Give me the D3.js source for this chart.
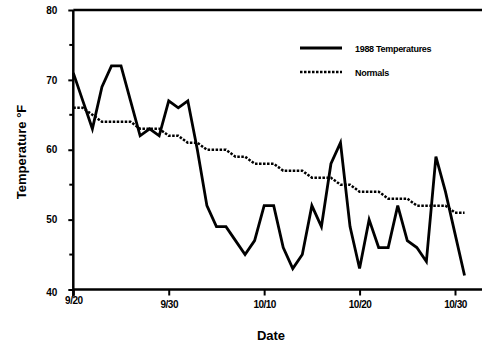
<!DOCTYPE html>
<html>
<head>
<meta charset="utf-8">
<script src="https://cdn.jsdelivr.net/npm/d3@7"></script>
<style>
  body { margin: 0; background: #fff; }
  svg text { font-family: "Liberation Sans", Arial, sans-serif; font-weight: bold; fill: #000; }
</style>
</head>
<body>
<div id="chart"></div>
<script>
// days since 9/20
var days = d3.range(0, 42);

// 1988 daily temperatures
var temps1988 = [71, 67, 63, 69, 72, 72, 67, 62, 63, 62, 67, 66, 67, 60, 52, 49, 49, 47, 45, 47, 52, 52,
                 46, 43, 45, 52, 49, 58, 61, 49, 43, 50, 46, 46, 52, 47, 46, 44, 59, 54, 48, 42];

// normal temperatures
var normals = [66, 66, 65, 64, 64, 64, 64, 63, 63, 63, 62, 62, 61, 61, 60, 60, 60, 59, 59, 58, 58, 58,
               57, 57, 57, 56, 56, 56, 55, 55, 54, 54, 54, 53, 53, 53, 52, 52, 52, 52, 51, 51];

var xTickDays = [0, 10, 20, 30, 40];
var xTickLabels = ["9/20", "9/30", "10/10", "10/20", "10/30"];
var yTicks = [40, 50, 60, 70, 80];
var yMinorTicks = [45, 55, 65, 75];

var width = 482, height = 342;
// plot edges (note: "top" is reserved on window, so prefix everything)
var plotLeft = 73.3, plotRight = 482, plotTop = 10, plotBottom = 289.5;

// set the ranges
var x = d3.scaleLinear().domain([0, 40]).range([plotLeft, 455]);
var y = d3.scaleLinear().domain([40, 80]).range([plotBottom, plotTop]);

var svg = d3.select("#chart").append("svg")
    .attr("width", width)
    .attr("height", height);

// top border
svg.append("line")
    .attr("x1", plotLeft).attr("x2", plotRight)
    .attr("y1", plotTop).attr("y2", plotTop)
    .attr("stroke", "#000").attr("stroke-width", 2.5);

// x axis
var xAxis = svg.append("g")
    .attr("transform", "translate(0," + plotBottom + ")")
    .call(d3.axisBottom(x).tickValues(xTickDays).tickSize(6).tickSizeOuter(0)
      .tickFormat(function(d, i) { return xTickLabels[i]; }));
xAxis.select(".domain").attr("d", "M" + plotLeft + ",0H" + plotRight).attr("stroke-width", 2.5);
xAxis.selectAll(".tick line").attr("stroke-width", 2);
xAxis.selectAll(".tick text")
    .attr("font-size", 10)
    .attr("y", 11)
    .style("letter-spacing", "-0.5px");
xAxis.selectAll(".tick text").filter(function(d) { return d === 0; }).attr("y", 7);
xAxis.attr("font-family", null);

// y axis
var yAxis = svg.append("g")
    .attr("transform", "translate(" + plotLeft + ",0)")
    .call(d3.axisLeft(y).tickValues(yTicks).tickSize(5).tickSizeOuter(0));
yAxis.select(".domain").attr("d", "M0," + plotTop + "V" + (plotBottom + 7)).attr("stroke-width", 2.5);
yAxis.selectAll(".tick line").attr("stroke-width", 2);
yAxis.selectAll(".tick text")
    .attr("font-size", 10)
    .attr("x", -16);
yAxis.selectAll(".tick text").filter(function(d) { return d === 40; }).attr("dy", "0.6em");
yAxis.attr("font-family", null);

// minor y ticks
svg.selectAll(".yminor")
    .data(yMinorTicks)
  .enter().append("line")
    .attr("class", "yminor")
    .attr("x1", plotLeft - 4).attr("x2", plotLeft)
    .attr("y1", function(d) { return y(d); })
    .attr("y2", function(d) { return y(d); })
    .attr("stroke", "#000").attr("stroke-width", 2);

// axis titles
svg.append("text")
    .attr("transform", "translate(26,152) rotate(-90)")
    .attr("text-anchor", "middle")
    .attr("font-size", 13)
    .text("Temperature \u00B0F");

svg.append("text")
    .attr("x", 271).attr("y", 340)
    .attr("text-anchor", "middle")
    .attr("font-size", 13)
    .text("Date");

// lines
var line = function(values) {
  return d3.line()
    .x(function(d) { return x(d); })
    .y(function(d, i) { return y(values[i]); })(days);
};

svg.append("path")
    .attr("d", line(normals))
    .attr("fill", "none")
    .attr("stroke", "#000")
    .attr("stroke-width", 2.5)
    .attr("stroke-dasharray", "2.5,1.5");

svg.append("path")
    .attr("d", line(temps1988))
    .attr("fill", "none")
    .attr("stroke", "#000")
    .attr("stroke-width", 2.8)
    .attr("stroke-linejoin", "miter");

// legend
var legend = svg.append("g");
legend.append("line")
    .attr("x1", 300).attr("x2", 342).attr("y1", 48).attr("y2", 48)
    .attr("stroke", "#000").attr("stroke-width", 2.8);
legend.append("line")
    .attr("x1", 300).attr("x2", 342).attr("y1", 72).attr("y2", 72)
    .attr("stroke", "#000").attr("stroke-width", 2.5).attr("stroke-dasharray", "2.5,1.5");
legend.append("text")
    .attr("x", 355).attr("y", 52)
    .attr("font-size", 9)
    .style("letter-spacing", "-0.3px")
    .text("1988 Temperatures");
legend.append("text")
    .attr("x", 355).attr("y", 76)
    .attr("font-size", 9)
    .style("letter-spacing", "-0.3px")
    .text("Normals");
</script>
</body>
</html>
